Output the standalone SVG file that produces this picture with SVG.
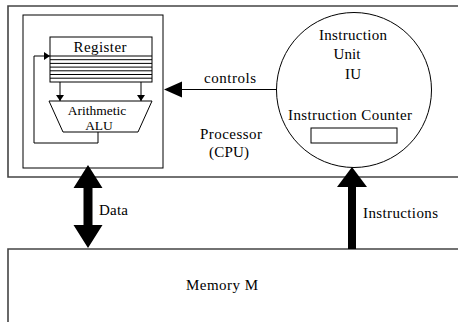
<svg xmlns="http://www.w3.org/2000/svg" width="458" height="322" viewBox="0 0 458 322">
  <style>
    text { font-family: "Liberation Serif", "Times New Roman", serif; font-size: 15px; fill: #000; }
    .alu-label { font-size: 13.5px; }
    .frame { fill: none; stroke: #444; stroke-width: 1.6; }
    .thin { fill: none; stroke: #000; stroke-width: 1; }
    .box { fill: #fff; stroke: #000; stroke-width: 1; }
    .fillblk { fill: #000; stroke: none; }
  </style>
  <defs>
    <marker id="tip" markerWidth="6" markerHeight="8" refX="6" refY="4" orient="auto" markerUnits="userSpaceOnUse">
      <path d="M0,0 L6,4 L0,8 Z" fill="#000"/>
    </marker>
  </defs>

  <rect width="458" height="322" fill="#fff"/>

  <!-- processor frame -->
  <g id="processor">
    <path class="frame" d="M470,6 H8 V177 H470"/>
    <text x="231" y="139" text-anchor="middle" textLength="62">Processor</text>
    <text x="229" y="157" text-anchor="middle" textLength="40">(CPU)</text>
  </g>

  <!-- memory frame -->
  <g id="memory">
    <path class="frame" d="M470,249 H8 V330"/>
    <text x="222" y="290" text-anchor="middle" textLength="72">Memory M</text>
  </g>

  <!-- arithmetic/register block -->
  <g id="datapath">
    <rect class="thin" x="23" y="15" width="140" height="153"/>
  </g>

  <g id="register">
    <rect class="box" x="50" y="37" width="102" height="45"/>
    <path class="thin" d="M50,56 H152 M50,59.7 H152 M50,63.4 H152 M50,67.1 H152 M50,70.8 H152 M50,74.5 H152 M50,78.2 H152"/>
    <text x="100" y="52" text-anchor="middle" textLength="53">Register</text>
  </g>

  <g id="alu">
    <path class="box" d="M49,101 H152 L138,132 H63 Z"/>
    <text class="alu-label" x="97" y="114.5" text-anchor="middle">Arithmetic</text>
    <text class="alu-label" x="99" y="130" text-anchor="middle">ALU</text>
  </g>

  <g id="instruction-unit">
    <circle class="thin" cx="354" cy="90" r="77.5"/>
    <text x="353" y="40" text-anchor="middle" textLength="68">Instruction</text>
    <text x="347" y="59" text-anchor="middle" textLength="27">Unit</text>
    <text x="353" y="79" text-anchor="middle" textLength="16">IU</text>
    <text x="350" y="120" text-anchor="middle" textLength="124">Instruction Counter</text>
    <rect class="box" x="311" y="128" width="86" height="15"/>
  </g>

  <!-- connectors -->
  <g id="connectors">
    <!-- register to ALU operands -->
    <line class="thin" x1="60" y1="82" x2="60" y2="101" marker-end="url(#tip)"/>
    <line class="thin" x1="141" y1="82" x2="141" y2="101" marker-end="url(#tip)"/>
    <!-- ALU result back to register -->
    <path class="thin" d="M98,132 V143 H34 V56 H50" marker-end="url(#tip)"/>
    <!-- controls -->
    <line class="thin" x1="276.5" y1="89.5" x2="180" y2="89.5"/>
    <path class="fillblk" d="M164,89.5 L182,81.5 L182,97.5 Z"/>
    <text x="230" y="83" text-anchor="middle" textLength="52">controls</text>
    <!-- data bus -->
    <path class="fillblk" d="M88,165 L102.5,188 L92.5,188 L92.5,225 L102.5,225 L88,248 L73.5,225 L83.5,225 L83.5,188 L73.5,188 Z"/>
    <text x="99" y="215" textLength="29">Data</text>
    <!-- instruction fetch -->
    <path class="fillblk" d="M352,167 L367,187 L356,187 L356,249 L348,249 L348,187 L337,187 Z"/>
    <text x="363" y="218" textLength="75">Instructions</text>
  </g>
</svg>
